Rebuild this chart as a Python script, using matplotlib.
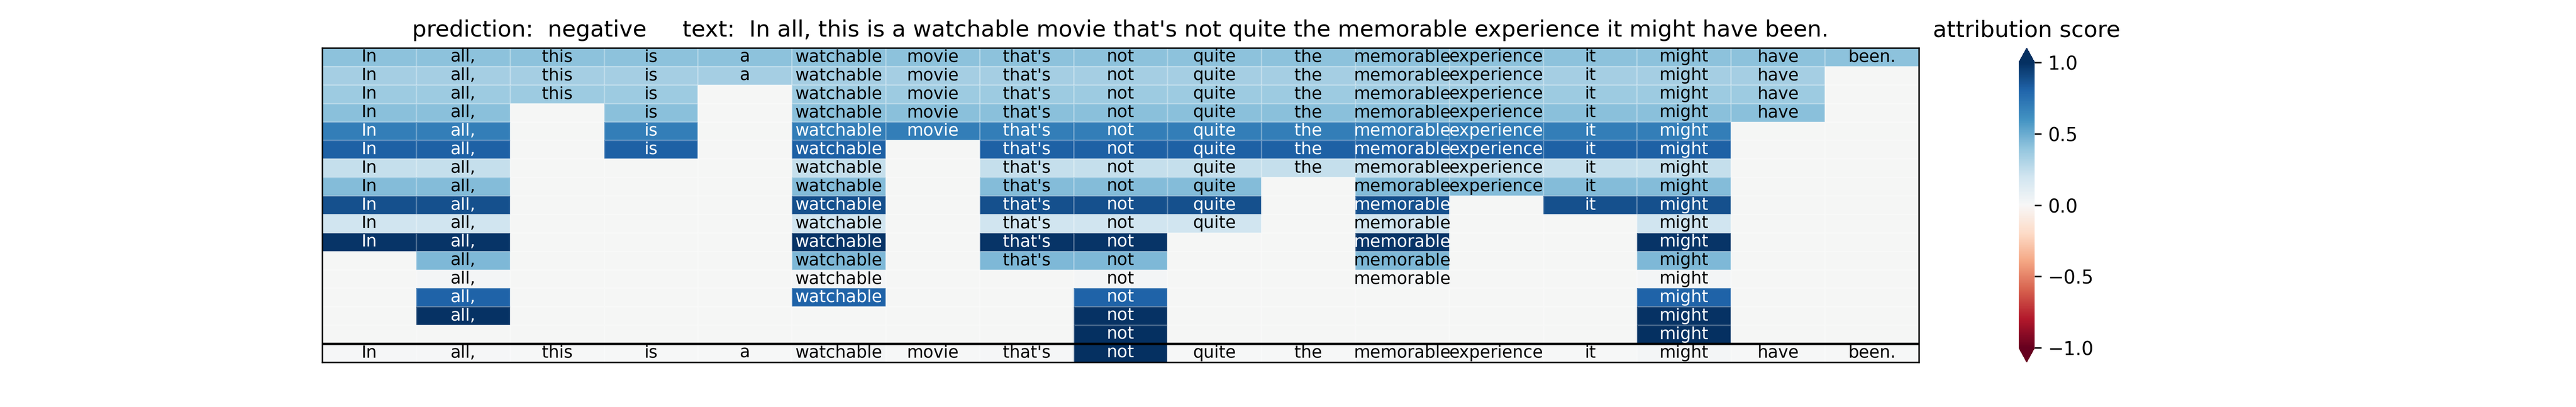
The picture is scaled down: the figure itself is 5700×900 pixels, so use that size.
import numpy as np
import matplotlib
matplotlib.use("Agg")
import matplotlib.pyplot as plt

# words of the sentence
words = ["In", "all,", "this", "is", "a", "watchable", "movie", "that's", "not",
         "quite", "the", "memorable", "experience", "it", "might", "have", "been."]

# which words are still present in each row (1 = kept)
row_masks = [
    "11111111111111111",
    "11111111111111110",
    "11110111111111110",
    "11010111111111110",
    "11010111111111100",
    "11010101111111100",
    "11000101111111100",
    "11000101110111100",
    "11000101110101100",
    "11000101110100100",
    "11000101100100100",
    "01000101100100100",
    "01000100100100100",
    "01000100100000100",
    "01000000100000100",
    "00000000100000100",
]

# score of each row
row_scores = [0.41, 0.34, 0.36, 0.42, 0.69, 0.82, 0.24, 0.43, 0.88, 0.20,
              0.98, 0.45, 0.02, 0.81, 0.99, 1.0]

# attribution of each word (bottom row)
word_scores = [0.01, 0.01, 0.0, 0.0, 0.0, 0.02, 0.0, 0.01, 1.0,
               0.0, 0.0, 0.02, 0.0, 0.0, 0.02, 0.0, 0.0]

prediction = "negative"
cbar_ticks = [-1.0, -0.5, 0.0, 0.5, 1.0]

n_words = len(words)
n_rows = len(row_masks) + 1

# build the grid, nan where the word was removed
grid = np.full((n_rows, n_words), np.nan)
for i, mask in enumerate(row_masks):
    for j, m in enumerate(mask):
        if m == "1":
            grid[i, j] = row_scores[i]
grid[-1, :] = word_scores

cmap = plt.get_cmap("RdBu").copy()
cmap.set_bad("#f5f6f5")

fig = plt.figure(figsize=(19, 3), dpi=300)
ax = fig.add_axes([0.1251, 0.110, 0.6198, 0.7722])
cax = fig.add_axes([0.7837, 0.110, 0.00614, 0.7722])
ax.set_facecolor("#f5f6f5")

mesh = ax.pcolormesh(np.arange(n_words + 1), np.arange(n_rows + 1), grid,
                     cmap=cmap, vmin=-1, vmax=1,
                     edgecolors=(1, 1, 1, 0.25), linewidth=0.25)
ax.set_xlim(0, n_words)
ax.set_ylim(n_rows, 0)

for i in range(n_rows):
    for j in range(n_words):
        v = grid[i, j]
        if np.isnan(v):
            continue
        ax.text(j + 0.5, i + 0.5, words[j], ha="center", va="center",
                fontsize=9, color="white" if v > 0.5 else "black")

# line between the tree rows and the word attributions
ax.axhline(n_rows - 1, color="black", lw=1.3)
for s in ax.spines.values():
    s.set_linewidth(0.8)
ax.set_xticks([])
ax.set_yticks([])

title = "prediction:  " + prediction + "     text:  " + " ".join(words)
ax.set_title(title, fontsize=12)

cb = fig.colorbar(mesh, cax=cax, extend="both", ticks=cbar_ticks)
cb.outline.set_visible(False)
cb.ax.tick_params(labelsize=10)
cax.set_title("attribution score", fontsize=12)

fig.savefig("out.png", dpi=300)
